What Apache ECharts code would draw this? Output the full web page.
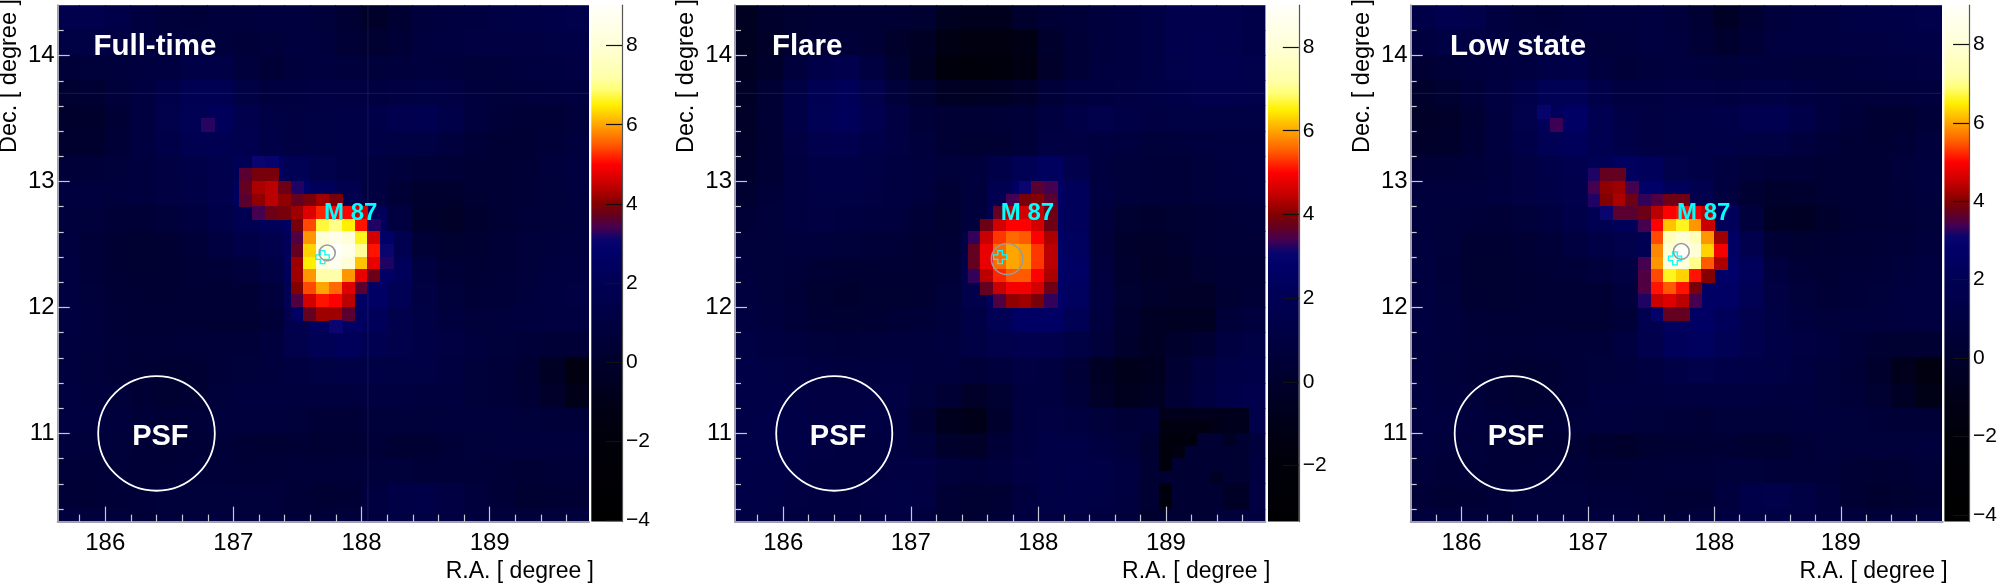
<!DOCTYPE html>
<html><head><meta charset="utf-8">
<style>html,body{margin:0;padding:0;background:#fff}#c{width:2000px;height:583px}</style>
<script src="https://cdn.jsdelivr.net/npm/echarts@6/dist/echarts.min.js"></script>
</head><body><div id="c"></div>
<script>
// Tick labels
const raTicks=[186,187,188,189];
const raMinorTicks=[185.8,186.2,186.4,186.6,186.8,187.2,187.4,187.6,187.8,188.2,188.4,188.6,188.8,189.2,189.4,189.6];
const decTicks=[11,12,13,14];
const decMinorTicks=[10.4,10.6,10.8,11.2,11.4,11.6,11.8,12.2,12.4,12.6,12.8,13.2,13.4,13.6,13.8,14.2];
const scaleTicks=[-4,-2,0,2,4,6,8];
const flareScaleTicks=[-2,0,2,4,6,8];
const panelTitles=['Full-time','Flare','Low state'];
// Palette: significance -> colour
const paletteValues=[-4,-2,-1,0,1,2,2.8,3.1,3.4,3.7,4,4.5,5,5.5,6,6.5,6.9,7.2,8,9];
const paletteColors=['#000000','#00000a','#000018','#00002d','#000041','#000055','#000069','#0a056e','#460050','#640020','#820000','#c80000','#ff0000','#ff5a00','#ffa500','#fff000','#ffff78','#ffffaa','#ffffd7','#fffffa'];
// Coarse background cells (0.2 deg), top row = Dec 14.4, left column = R.A. 185.6
const fullBackground=[
[1.6,1.6,1.4,1.0,0.7,0.6,0.8,0.8,0.9,0.9,0.7,0.3,-0.2,0.3,0.8,0.9,1.0,1.2,1.3,1.4,1.5],
[1.2,1.2,1.1,1.0,0.9,0.8,0.8,0.6,0.7,0.9,0.8,0.5,0.2,0.5,0.9,1.0,1.1,1.1,1.1,1.2,1.3],
[0.6,0.7,0.8,0.9,1.0,1.3,1.3,0.8,0.5,0.8,0.9,0.8,0.7,0.8,0.9,0.8,0.7,0.8,0.9,1.0,1.1],
[0.2,0.3,0.7,1.0,1.4,1.9,1.9,1.2,0.9,1.0,1.1,1.1,1.0,1.1,1.2,1.1,0.8,0.7,0.8,0.9,1.0],
[0.0,0.0,0.4,1.0,1.5,2.0,2.2,1.6,1.2,1.1,1.2,1.3,1.4,1.7,1.8,1.4,0.9,0.6,0.5,0.5,0.7],
[0.1,0.1,0.5,1.0,1.4,1.8,1.9,1.7,1.3,1.1,1.2,1.3,1.3,1.2,1.2,0.9,0.6,0.4,0.4,0.6,0.9],
[0.6,0.6,0.7,0.9,1.1,1.4,1.6,2.0,2.6,2.0,1.5,1.3,1.0,0.8,0.6,0.5,0.4,0.4,0.5,0.8,1.0],
[0.9,0.9,0.8,0.9,1.1,1.3,1.6,2.4,2.9,2.8,2.2,1.7,1.0,0.5,0.1,0.1,0.3,0.4,0.5,0.7,0.9],
[0.8,0.7,0.5,0.5,0.7,1.0,1.4,1.9,2.2,2.5,2.8,2.6,2.2,1.0,0.0,-0.2,0.1,0.4,0.6,0.7,0.8],
[0.9,0.6,0.3,0.2,0.3,0.6,1.0,1.4,1.6,2.2,2.8,2.8,2.6,1.8,0.5,0.2,0.3,0.5,0.7,0.8,0.9],
[1.0,0.6,0.3,0.2,0.3,0.5,0.6,0.8,1.2,2.2,2.8,2.8,2.8,2.2,1.0,0.5,0.4,0.5,0.7,0.9,1.0],
[1.0,0.7,0.4,0.3,0.3,0.4,0.4,0.4,0.8,2.0,2.6,2.6,2.6,2.0,1.1,0.7,0.5,0.6,0.8,1.0,1.1],
[1.0,0.8,0.5,0.4,0.4,0.4,0.3,0.3,0.6,1.6,2.4,2.6,2.2,1.6,1.2,0.9,0.7,0.8,0.9,1.0,1.0],
[0.9,0.8,0.6,0.5,0.5,0.6,0.6,0.6,0.9,1.5,2.0,2.2,1.8,1.5,1.3,1.1,0.9,0.7,0.6,0.5,0.5],
[0.9,0.7,0.5,0.4,0.2,0.3,0.6,0.7,0.8,1.0,1.2,1.3,1.2,1.2,1.2,1.0,0.7,0.6,0.3,-0.4,-1.5],
[1.0,0.8,0.7,0.4,0.2,0.3,0.7,0.9,0.9,0.9,0.9,0.9,1.0,1.0,0.9,0.9,0.7,0.6,0.4,-0.1,-1.0],
[1.0,0.9,0.8,0.6,0.5,0.6,0.8,0.8,0.8,0.7,0.5,0.5,0.7,0.7,0.7,0.8,0.8,0.8,0.7,0.6,0.6],
[0.8,0.7,0.7,0.5,0.4,0.5,0.6,0.4,0.3,0.4,0.3,0.4,0.5,0.3,0.3,0.5,0.7,0.8,0.8,0.8,0.8],
[0.6,0.5,0.6,0.5,0.5,0.6,0.6,0.5,0.5,0.6,0.6,0.6,0.7,0.7,0.6,0.6,0.6,0.5,0.4,0.5,0.6],
[0.5,0.4,0.5,0.6,0.7,0.7,0.7,0.7,0.7,0.5,0.3,0.4,0.9,1.3,1.4,1.1,0.8,0.5,0.2,0.3,0.4],
[0.9,0.8,0.7,0.6,0.7,0.8,0.8,0.8,0.7,0.6,0.6,0.7,1.0,1.2,1.2,1.1,0.9,0.8,0.7,0.7,0.8]];
const flareBackground=[
[-0.6,0.0,0.2,0.3,0.4,0.4,0.4,0.2,-0.6,-0.8,-0.8,0.0,0.4,0.6,0.8,1.0,1.2,1.6,1.6,1.5,1.4],
[-0.6,-0.2,0.2,0.5,0.6,0.4,-0.1,-0.4,-1.2,-1.5,-1.5,-1.2,0.0,0.5,0.8,1.0,1.2,1.6,1.7,1.6,1.4],
[-0.5,0.0,0.8,1.4,1.6,1.0,0.2,-0.6,-1.8,-2.0,-1.8,-1.4,-0.1,0.5,0.9,1.0,1.2,1.5,1.7,1.7,1.5],
[-0.3,0.3,1.2,1.9,2.1,1.5,0.7,0.2,-0.4,-0.5,-0.4,-0.1,0.6,0.9,1.0,1.1,1.2,1.4,1.6,1.6,1.5],
[-0.2,0.4,1.3,2.0,2.2,1.7,1.1,0.6,0.4,0.4,0.5,0.6,1.0,1.3,1.5,1.3,1.1,1.2,1.2,1.2,1.2],
[-0.1,0.3,1.1,1.6,1.7,1.4,1.1,0.8,0.4,0.2,0.3,0.6,1.1,1.1,1.0,0.9,0.7,0.8,0.9,1.0,1.0],
[0.0,0.4,1.0,1.3,1.3,1.2,1.0,0.9,0.7,0.8,1.4,2.0,2.4,1.6,0.9,0.7,0.6,0.6,0.7,0.9,1.0],
[0.2,0.6,1.0,1.2,1.2,1.1,1.0,0.8,0.4,0.8,1.8,2.6,2.8,2.2,1.0,0.7,0.6,0.6,0.7,0.8,0.9],
[0.5,0.7,1.0,1.1,1.0,0.9,0.8,0.5,0.2,0.8,2.0,2.6,2.6,2.2,0.8,0.2,0.1,0.2,0.4,0.5,0.6],
[0.7,0.7,0.8,0.8,0.7,0.6,0.5,0.3,0.4,1.2,2.4,2.8,2.8,2.4,0.7,0.0,-0.1,0.1,0.4,0.5,0.5],
[0.8,0.7,0.6,0.4,0.3,0.3,0.3,0.3,0.5,1.5,2.6,2.8,2.8,2.6,0.9,0.1,-0.2,-0.1,0.2,0.4,0.4],
[0.9,0.7,0.5,0.2,0.1,0.2,0.2,0.3,0.7,1.5,2.4,2.8,2.8,2.4,1.0,0.2,0.0,-0.2,-0.2,0.3,0.5],
[1.0,0.8,0.6,0.3,0.2,0.3,0.5,0.6,0.8,1.3,2.0,2.6,2.6,2.0,0.9,0.1,-0.4,-0.5,-0.5,0.6,0.9],
[1.2,1.0,0.9,0.7,0.6,0.7,0.8,0.8,0.9,1.2,1.5,1.7,1.6,1.2,0.7,0.0,-0.4,0.0,0.3,1.0,1.2],
[1.3,1.2,1.1,1.0,0.9,0.9,1.0,0.8,0.8,0.6,0.8,1.1,1.0,0.5,-0.4,-0.9,-0.7,0.3,0.9,1.3,1.4],
[1.3,1.3,1.2,1.1,1.1,1.1,1.1,0.7,0.4,-0.2,0.2,0.9,1.0,0.6,-0.2,-0.7,-0.5,0.4,1.0,1.4,1.6],
[1.3,1.4,1.3,1.1,1.1,1.2,1.0,0.3,-0.7,-1.0,0.0,0.9,1.1,1.0,0.7,0.5,0.6,0.8,1.0,1.3,1.5],
[1.4,1.4,1.3,1.1,1.0,1.0,1.0,0.7,0.0,-0.2,0.5,1.0,1.3,1.3,1.0,0.7,0.2,-0.5,-0.6,-0.4,0.8],
[1.4,1.3,1.2,1.0,0.9,1.0,1.1,1.1,0.7,0.6,0.8,1.1,1.3,1.4,1.3,1.0,0.3,0.3,0.4,0.5,1.0],
[1.3,1.2,1.1,1.0,1.0,1.1,1.2,1.1,0.4,0.2,0.3,0.9,1.2,1.3,1.2,0.9,0.3,0.3,0.3,0.6,1.1],
[1.2,1.1,1.0,1.0,1.0,1.0,1.1,0.9,0.3,0.2,0.5,1.0,1.1,1.1,1.0,0.7,0.1,0.3,0.3,0.7,1.0]];
const lowBackground=[
[1.4,1.7,1.5,1.0,0.7,0.6,0.8,0.9,0.9,1.0,0.8,0.3,-0.3,0.2,0.8,0.9,1.0,1.2,1.3,1.4,1.5],
[1.0,1.2,1.1,1.0,0.9,0.8,0.8,0.7,0.8,1.0,0.9,0.5,0.1,0.5,0.9,1.0,1.0,1.1,1.1,1.2,1.3],
[0.4,0.6,0.8,0.9,1.0,1.3,1.4,0.9,0.6,0.8,0.9,0.8,0.7,0.8,0.8,0.7,0.7,0.8,0.9,1.0,1.1],
[0.0,0.2,0.6,1.0,1.4,2.0,2.0,1.4,1.0,1.0,1.1,1.1,1.0,1.1,1.2,1.0,0.8,0.7,0.7,0.8,0.9],
[-0.2,-0.1,0.3,0.9,1.5,2.2,2.6,1.8,1.3,1.1,1.2,1.3,1.4,1.7,1.8,1.4,0.9,0.6,0.3,0.3,0.6],
[-0.1,0.0,0.4,0.9,1.4,2.0,2.2,1.8,1.4,1.1,1.2,1.3,1.3,1.2,1.2,0.9,0.6,0.4,0.3,0.5,0.8],
[0.5,0.5,0.6,0.8,1.1,1.4,1.7,2.0,2.4,2.2,1.5,1.3,1.0,0.7,0.5,0.5,0.4,0.4,0.4,0.7,0.9],
[0.8,0.8,0.8,0.9,1.1,1.3,1.6,2.4,2.9,2.8,2.2,1.7,0.9,0.3,0.0,0.1,0.3,0.4,0.4,0.6,0.8],
[0.8,0.7,0.6,0.5,0.7,1.0,1.4,1.9,2.2,2.4,2.6,2.6,2.2,0.8,-0.3,-0.4,0.0,0.3,0.4,0.5,0.7],
[0.9,0.7,0.3,0.3,0.4,0.6,1.0,1.3,1.5,1.9,2.4,2.8,2.6,1.6,0.4,0.2,0.3,0.4,0.5,0.6,0.8],
[1.0,0.6,0.2,0.2,0.3,0.5,0.6,0.8,1.1,2.0,2.6,2.8,2.8,2.2,0.9,0.5,0.4,0.5,0.6,0.8,1.0],
[1.0,0.7,0.3,0.2,0.3,0.4,0.4,0.4,0.8,2.0,2.6,2.6,2.6,2.0,1.1,0.7,0.5,0.6,0.7,0.9,1.0],
[1.0,0.8,0.5,0.4,0.4,0.4,0.3,0.3,0.6,1.7,2.4,2.6,2.2,1.6,1.2,0.9,0.7,0.8,0.8,0.9,1.0],
[0.9,0.8,0.6,0.5,0.5,0.6,0.6,0.6,1.0,1.6,2.2,2.4,2.0,1.6,1.3,1.1,0.9,0.6,0.3,0.2,0.3],
[0.9,0.7,0.5,0.4,0.2,0.3,0.6,0.7,0.8,1.0,1.3,1.5,1.4,1.3,1.2,1.0,0.7,0.5,0.0,-0.8,-1.6],
[1.0,0.8,0.7,0.4,0.2,0.3,0.6,0.9,0.9,0.9,1.0,1.0,1.0,1.0,0.9,0.9,0.7,0.6,0.2,-0.4,-1.1],
[1.0,0.9,0.8,0.6,0.5,0.5,0.7,0.8,0.8,0.7,0.6,0.5,0.7,0.7,0.7,0.8,0.8,0.7,0.6,0.5,0.5],
[0.9,0.7,0.7,0.5,0.4,0.4,0.4,0.1,-0.1,0.2,0.3,0.3,0.4,0.2,0.2,0.5,0.7,0.7,0.7,0.7,0.8],
[0.7,0.5,0.6,0.5,0.5,0.6,0.6,0.4,0.4,0.5,0.6,0.6,0.7,0.7,0.6,0.6,0.6,0.4,0.3,0.4,0.6],
[0.5,0.3,0.4,0.6,0.7,0.7,0.7,0.6,0.6,0.5,0.4,0.4,0.9,1.4,1.5,1.2,0.8,0.4,0.1,0.2,0.4],
[0.8,0.8,0.7,0.6,0.7,0.8,0.8,0.8,0.7,0.6,0.6,0.7,1.0,1.2,1.2,1.1,0.9,0.8,0.6,0.7,0.8]];
// Fine cells (0.1 deg): [Dec of top edge, R.A. of left edge, values]
const fullHot=[
[13.5,186.75,[3.25]],
[13.2,187.15,[3.1,3.0]],
[13.1,187.05,[3.6,3.9,3.9]],
[13.0,187.05,[3.7,4.3,4.4,3.8,3.2]],
[12.9,187.05,[3.6,4.1,4.4,4.1,3.7,3.9,4.2,3.9]],
[12.8,187.15,[3.4,3.8,3.9,4.2,4.7,5.2,5.0,5.0,4.6]],
[12.7,187.45,[3.9,5.4,6.7,7.0,6.5,5.1,3.2]],
[12.6,187.45,[3.5,5.9,8.0,8.5,8.0,6.6,4.6,2.8]],
[12.5,187.45,[3.7,6.3,8.3,9.0,8.6,7.1,5.1,3.1]],
[12.4,187.45,[4.2,6.5,8.2,8.7,8.0,6.2,4.8,3.2]],
[12.3,187.45,[4.2,5.9,7.2,7.2,5.9,4.8,3.8,2.6]],
[12.2,187.45,[4.0,5.4,6.0,5.6,4.7,3.6,2.6]],
[12.1,187.45,[3.5,4.6,5.1,5.0,4.4,2.6]],
[12.0,187.45,[2.6,3.7,4.2,4.2,3.6,2.4]],
[11.9,187.75,[3.1]]];
const flareHot=[
[13.0,187.85,[3.1,3.6,3.4]],
[12.9,187.75,[3.4,3.9,4.0,3.6]],
[12.8,187.65,[3.7,4.3,4.6,4.5,3.8]],
[12.7,187.55,[3.8,4.6,5.0,5.0,4.6,3.8]],
[12.6,187.45,[3.3,4.5,5.3,5.6,5.5,5.0,4.3]],
[12.5,187.45,[3.7,4.8,5.6,6.0,5.9,5.3,4.4]],
[12.4,187.45,[3.7,4.8,5.6,6.0,5.9,5.3,4.4]],
[12.3,187.45,[3.3,4.4,5.2,5.5,5.5,5.0,4.3]],
[12.2,187.55,[3.7,4.5,4.9,4.9,4.6,3.8]],
[12.1,187.65,[3.5,4.1,4.2,3.9,3.3]],
[11.2,188.95,[-0.8,-0.8,-0.8,-0.8,-0.8,-0.8,-0.8]],
[11.1,188.95,[-1.6,-1.6,-1.6,-1.6,-1.0,-0.8,-0.8]],
[11.0,188.95,[-1.8,-1.8,-1.8,0.3,0.3,-0.4,0.2]],
[10.9,188.95,[-1.8,-1.6,0.3,0.3,0.3,0.3,0.2]],
[10.8,188.95,[-1.8,0.3,0.3,0.3,0.3,0.3,0.2]],
[10.7,188.95,[0.3,0.3,0.3,0.3,-0.4,0.3,0.2]],
[10.6,188.95,[-1.8,0.3,0.3,0.3,0.3,-0.3,-0.3]],
[10.5,188.95,[-1.8,0.3,0.3,0.3,0.3,-0.3,-0.3]]];
const lowHot=[
[13.6,186.6,[3.0]],
[13.5,186.7,[3.35]],
[13.1,187.0,[3.2,3.7,3.7]],
[13.0,187.0,[3.4,4.1,4.2,3.4]],
[12.9,187.0,[3.2,4.0,4.3,3.8,3.3,3.5,3.8,3.8]],
[12.8,187.1,[3.1,3.6,3.6,3.8,4.4,5.0,5.1,4.9,4.4]],
[12.7,187.4,[3.4,5.0,6.2,6.6,5.9,4.5]],
[12.6,187.5,[5.4,7.5,8.0,7.5,5.9,4.2]],
[12.5,187.5,[5.8,8.0,9.0,8.0,6.3,4.9]],
[12.4,187.4,[3.4,5.9,8.0,8.2,7.0,5.5,4.3]],
[12.3,187.4,[3.5,5.4,6.6,6.3,5.1,4.0]],
[12.2,187.4,[3.5,5.1,5.5,5.1,3.9]],
[12.1,187.4,[3.2,4.5,4.7,4.4,3.4]],
[12.0,187.5,[2.9,3.7,3.7]]];
// Source markers [R.A., Dec, radius in degrees]
const fullCircle=[187.732,12.433,0.0625];
const flareCircle=[187.755,12.385,0.123];
const lowCircle=[187.738,12.445,0.0625];
const crossCenters=[[187.696,12.40],[187.70,12.40],[187.688,12.39]];
const psfCircle=[186.4,11.0,0.455];
const psfLabel=[186.43,10.975];
const sourceLabel=[187.915,12.75];
const raRanges=[[185.629,189.775],[185.622,189.78],[185.597,189.806]];
const decRange=[10.30,14.40];
const scaleRanges=[[-4.03,9.02],[-3.34,9.0],[-4.17,9.0]];
const seamDec=13.7;
const seamRA=188.05;

const font='"Liberation Sans",Arial,sans-serif';
const layouts=[
 {l:57.7,r:589,cl:591.3,cr:622,tx:93.4,dx:10,ax:593},
 {l:735,r:1265.4,cl:1268,cr:1298.8,tx:771.9,dx:687,ax:1271},
 {l:1410.7,r:1942.7,cl:1944.4,cr:1975.5,tx:1450,dx:1363,ax:1948}];
const gridTop=5.2,gridBottom=521.6;
function rgb(h){return [parseInt(h.slice(1,3),16),parseInt(h.slice(3,5),16),parseInt(h.slice(5,7),16)];}
function colorOf(v){
  if(v<=paletteValues[0])return paletteColors[0];
  for(let i=1;i<paletteValues.length;i++){
    if(v<=paletteValues[i]){
      const t=(v-paletteValues[i-1])/(paletteValues[i]-paletteValues[i-1]);
      const a=rgb(paletteColors[i-1]),b=rgb(paletteColors[i]);
      return 'rgb('+a.map((c,k)=>Math.round(c+(b[k]-c)*t)).join(',')+')';
    }
  }
  return paletteColors[paletteColors.length-1];
}
function cells(bg,hot){
  const out=[];
  bg.forEach((row,r)=>row.forEach((v,c)=>{
    const x0=185.6+0.2*c,y1=14.4-0.2*r;
    out.push([x0,y1-0.2,x0+0.2,y1,v]);
  }));
  hot.forEach(h=>h[2].forEach((v,c)=>{
    const x0=h[1]+0.1*c;
    out.push([x0,h[0]-0.1,x0+0.1,h[0],v]);
  }));
  return out;
}
function renderCell(params,api){
  const a=api.coord([api.value(0),api.value(3)]),b=api.coord([api.value(2),api.value(1)]);
  const s=params.coordSys;
  const shape=echarts.graphic.clipRectByRect({x:Math.floor(a[0]),y:Math.floor(a[1]),width:Math.ceil(b[0])-Math.floor(a[0]),height:Math.ceil(b[1])-Math.floor(a[1])},{x:s.x,y:s.y,width:s.width,height:s.height});
  return shape&&{type:'rect',shape:shape,style:{fill:colorOf(api.value(4))}};
}
function renderCircle(color,w){return function(params,api){
  const c=api.coord([api.value(0),api.value(1)]);
  const e=api.coord([api.value(0)+api.value(2),api.value(1)+api.value(2)]);
  return {type:'ellipse',shape:{cx:c[0],cy:c[1],rx:e[0]-c[0],ry:c[1]-e[1]},style:{fill:'none',stroke:color,lineWidth:w}};
};}
function renderCross(params,api){
  const x=api.value(0),y=api.value(1),L=0.052,A=0.018;
  const pts=[[-A,L],[A,L],[A,A],[L,A],[L,-A],[A,-A],[A,-L],[-A,-L],[-A,-A],[-L,-A],[-L,A],[-A,A]].map(p=>api.coord([x+p[0],y+p[1]]));
  return {type:'polygon',shape:{points:pts},style:{fill:'none',stroke:'#00ffff',lineWidth:1.3}};
}
function renderSeam(params,api){
  const a=api.coord([api.value(0),api.value(1)]),b=api.coord([api.value(2),api.value(3)]);
  return {type:'line',shape:{x1:a[0],y1:a[1],x2:b[0],y2:b[1]},style:{stroke:'rgba(70,70,150,0.3)',lineWidth:1}};
}
function renderText(text,size,color){return function(params,api){
  const c=api.coord([api.value(0),api.value(1)]);
  return {type:'text',x:c[0],y:c[1],style:{text:text,fill:color,font:'bold '+size+'px '+font,textAlign:'center',textVerticalAlign:'middle'}};
};}
function renderBar(scale){return function(params,api){
  const a=api.coord([0,scale[1]]),b=api.coord([1,scale[0]]);
  const span=scale[1]-scale[0],stops=[];
  paletteValues.forEach((v,i)=>{const o=(scale[1]-v)/span;if(o>=0&&o<=1)stops.push({offset:o,color:paletteColors[i]});});
  stops.push({offset:0,color:colorOf(scale[1])});
  stops.push({offset:1,color:colorOf(scale[0])});
  stops.sort((p,q)=>p.offset-q.offset);
  return {type:'rect',shape:{x:a[0],y:a[1],width:b[0]-a[0],height:b[1]-a[1]},style:{fill:new echarts.graphic.LinearGradient(0,0,0,1,stops)}};
};}
const grids=[],xAxes=[],yAxes=[],series=[],texts=[];
const lineCol='#a0a0b0',tickCol='#c8c8d2';
const bgs=[fullBackground,flareBackground,lowBackground],hots=[fullHot,flareHot,lowHot],circles=[fullCircle,flareCircle,lowCircle];
layouts.forEach((L,p)=>{
  const gi=grids.length;
  grids.push({left:L.l,top:gridTop,width:L.r-L.l,height:gridBottom-gridTop,containLabel:false});
  grids.push({left:L.cl,top:gridTop,width:L.cr-L.cl,height:gridBottom-gridTop,containLabel:false});
  const xi=xAxes.length,yi=yAxes.length;
  const base={type:'value',gridIndex:gi,min:raRanges[p][0],max:raRanges[p][1],position:'bottom',z:10,splitLine:{show:false},silent:true};
  xAxes.push(Object.assign({},base,{axisLine:{onZero:false,lineStyle:{color:lineCol,width:2}},axisTick:{inside:true,length:15,lineStyle:{color:tickCol,width:1.2},customValues:raTicks},axisLabel:{customValues:raTicks,color:'#000',fontFamily:font,fontSize:24,margin:10,formatter:v=>String(v)}}));
  xAxes.push(Object.assign({},base,{axisLine:{show:false},axisTick:{inside:true,length:7,lineStyle:{color:tickCol,width:1.2},customValues:raMinorTicks},axisLabel:{show:false}}));
  xAxes.push({type:'value',gridIndex:gi+1,min:0,max:1,show:false});
  const ybase={type:'value',gridIndex:gi,min:decRange[0],max:decRange[1],position:'left',z:10,splitLine:{show:false},silent:true};
  yAxes.push(Object.assign({},ybase,{axisLine:{onZero:false,lineStyle:{color:lineCol,width:2}},axisTick:{inside:true,length:12,lineStyle:{color:tickCol,width:1.2},customValues:decTicks},axisLabel:{customValues:decTicks,color:'#000',fontFamily:font,fontSize:24,margin:3,formatter:v=>String(v)}}));
  yAxes.push(Object.assign({},ybase,{axisLine:{show:false},axisTick:{inside:true,length:6,lineStyle:{color:tickCol,width:1.2},customValues:decMinorTicks},axisLabel:{show:false}}));
  const st=p===1?flareScaleTicks:scaleTicks;
  yAxes.push({type:'value',gridIndex:gi+1,min:scaleRanges[p][0],max:scaleRanges[p][1],position:'right',z:10,splitLine:{show:false},
    axisLine:{onZero:false,lineStyle:{color:'#555',width:1.2}},axisTick:{inside:true,length:16,lineStyle:{color:'#111',width:1.2},customValues:st},
    axisLabel:{customValues:st,color:'#000',fontFamily:font,fontSize:21,margin:4,formatter:v=>String(v).replace('-','\u2212')}});
  const ax={xAxisIndex:xi,yAxisIndex:yi,silent:true,animation:false};
  series.push(Object.assign({type:'custom',data:cells(bgs[p],hots[p]),renderItem:renderCell,encode:{x:[0,2],y:[1,3]},z:2},ax));
  const seams=[[raRanges[p][0],seamDec,raRanges[p][1],seamDec]];
  if(p===0)seams.push([seamRA,decRange[0],seamRA,decRange[1]]);
  series.push(Object.assign({type:'custom',data:seams,renderItem:renderSeam,encode:{x:[0,2],y:[1,3]},z:3},ax));
  series.push(Object.assign({type:'custom',data:[psfCircle],renderItem:renderCircle('#ffffff',1.8),encode:{x:0,y:1},z:3},ax));
  series.push(Object.assign({type:'custom',data:[psfLabel],renderItem:renderText('PSF',29,'#ffffff'),encode:{x:0,y:1},z:3},ax));
  series.push(Object.assign({type:'custom',data:[sourceLabel],renderItem:renderText('M 87',24,'#00ffff'),encode:{x:0,y:1},z:4},ax));
  series.push(Object.assign({type:'custom',data:[crossCenters[p]],renderItem:renderCross,encode:{x:0,y:1},z:4},ax));
  series.push(Object.assign({type:'custom',data:[circles[p]],renderItem:renderCircle('#9a9a9a',1.6),encode:{x:0,y:1},z:5},ax));
  series.push({type:'custom',xAxisIndex:xi+2,yAxisIndex:yi+2,silent:true,animation:false,data:[[0,scaleRanges[p][0]],[1,scaleRanges[p][1]]],renderItem:(function(){const r=renderBar(scaleRanges[p]);return function(pa,api){return pa.dataIndex===0?r(pa,api):null;};})(),encode:{x:0,y:1},z:2});
  texts.push({type:'text',x:L.tx,y:47,z:20,style:{text:panelTitles[p],fill:'#fff',font:'bold 29.5px '+font,textAlign:'left',textVerticalAlign:'middle'}});
  texts.push({type:'text',x:L.r+5,y:571.5,z:20,style:{text:'R.A. [ degree ]',fill:'#000',font:'23px '+font,textAlign:'right',textVerticalAlign:'middle'}});
  texts.push({type:'text',x:L.dx,y:76,rotation:Math.PI/2,z:20,style:{text:'Dec. [ degree ]',fill:'#000',font:'23.5px '+font,textAlign:'center',textVerticalAlign:'middle'}});
});
const chart=echarts.init(document.getElementById('c'),null,{renderer:'canvas',width:2000,height:583});
chart.setOption({animation:false,backgroundColor:'#fff',grid:grids,xAxis:xAxes,yAxis:yAxes,series:series,graphic:{elements:texts}});
</script></body></html>
